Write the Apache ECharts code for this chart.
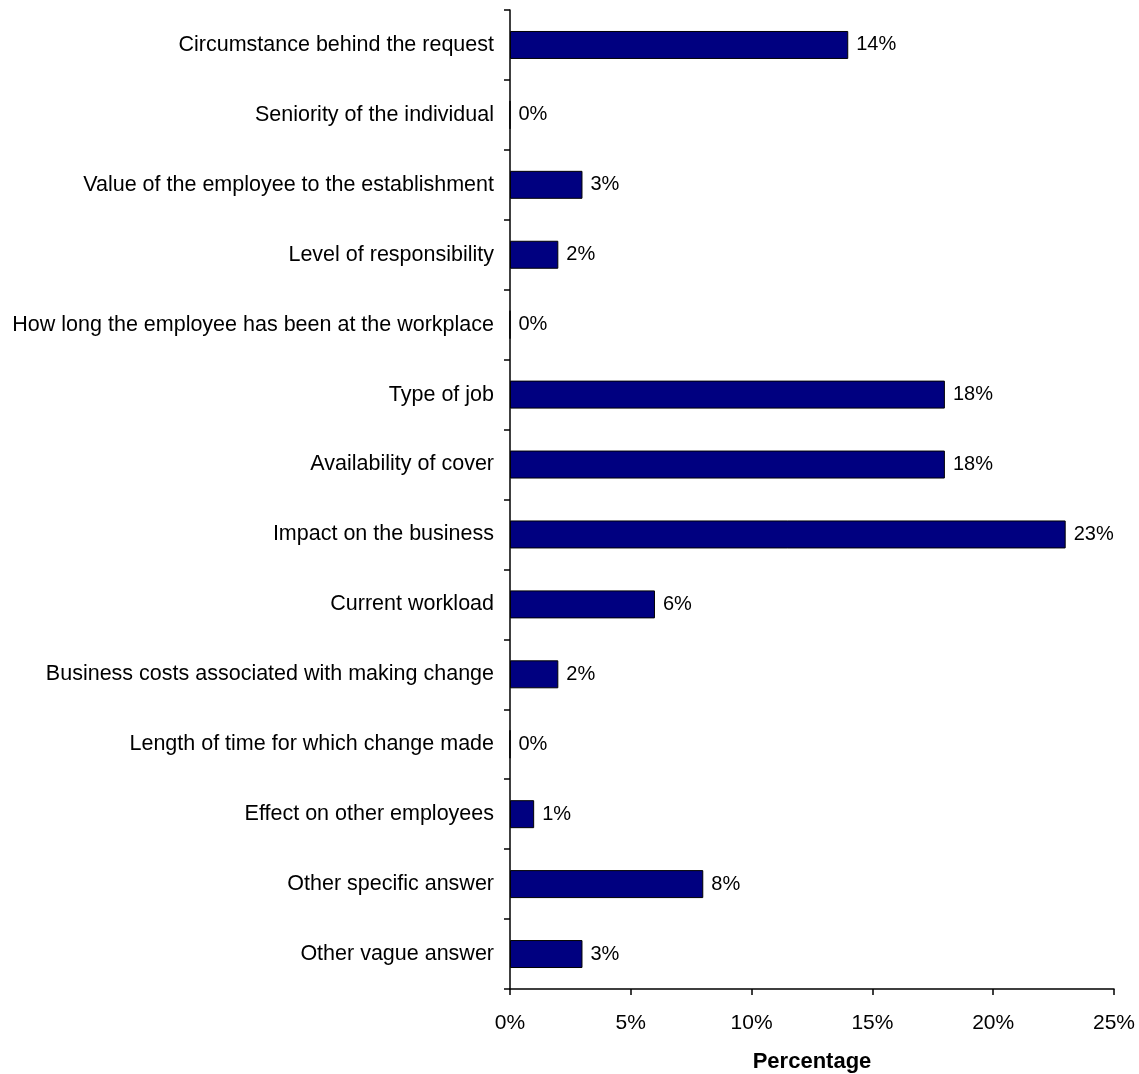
<!DOCTYPE html>
<html>
<head>
<meta charset="utf-8">
<script src="https://cdn.jsdelivr.net/npm/echarts@6/dist/echarts.min.js"></script>
<style>
  html, body { margin: 0; padding: 0; background: #fff; }
  #chart { width: 1139px; height: 1074px; }
</style>
</head>
<body>
<div id="chart"></div>
<script>
// Factors considered when deciding on a request (percentage of responses)
const categories = [
  'Circumstance behind the request',
  'Seniority of the individual',
  'Value of the employee to the establishment',
  'Level of responsibility',
  'How long the employee has been at the workplace',
  'Type of job',
  'Availability of cover',
  'Impact on the business',
  'Current workload',
  'Business costs associated with making change',
  'Length of time for which change made',
  'Effect on other employees',
  'Other specific answer',
  'Other vague answer'
];
const percentages = [14, 0, 3, 2, 0, 18, 18, 23, 6, 2, 0, 1, 8, 3];
const xTicks = [0, 5, 10, 15, 20, 25];

const font = 'Liberation Sans, Arial, sans-serif';
const chart = echarts.init(document.getElementById('chart'));
chart.setOption({
  animation: false,
  grid: { left: 510, right: 25, top: 10, bottom: 85, containLabel: false, outerBoundsMode: 'none' },
  xAxis: {
    type: 'value',
    min: xTicks[0],
    max: xTicks[xTicks.length - 1],
    interval: 5,
    name: 'Percentage',
    nameLocation: 'middle',
    nameGap: 62,
    nameTextStyle: { fontFamily: font, fontSize: 22, fontWeight: 'bold', color: '#000' },
    axisLine: { show: true, lineStyle: { color: '#000', width: 1.5 } },
    axisTick: { show: true, length: 6, lineStyle: { color: '#000', width: 1.5 } },
    axisLabel: { formatter: '{value}%', margin: 24, fontFamily: font, fontSize: 21, color: '#000' },
    splitLine: { show: false }
  },
  yAxis: {
    type: 'category',
    data: categories,
    inverse: true,
    axisLine: { show: true, lineStyle: { color: '#000', width: 1.5 } },
    axisTick: { show: true, length: 6, lineStyle: { color: '#000', width: 1.5 } },
    axisLabel: { margin: 16, fontFamily: font, fontSize: 21.5, color: '#000', interval: 0 },
    splitLine: { show: false }
  },
  series: [{
    type: 'bar',
    data: percentages,
    barWidth: '40%',
    itemStyle: { color: '#000080', borderColor: '#000', borderWidth: 1 },
    label: {
      show: true,
      position: 'right',
      distance: 8,
      formatter: '{c}%',
      fontFamily: font,
      fontSize: 20,
      color: '#000'
    }
  }]
});
</script>
</body>
</html>
